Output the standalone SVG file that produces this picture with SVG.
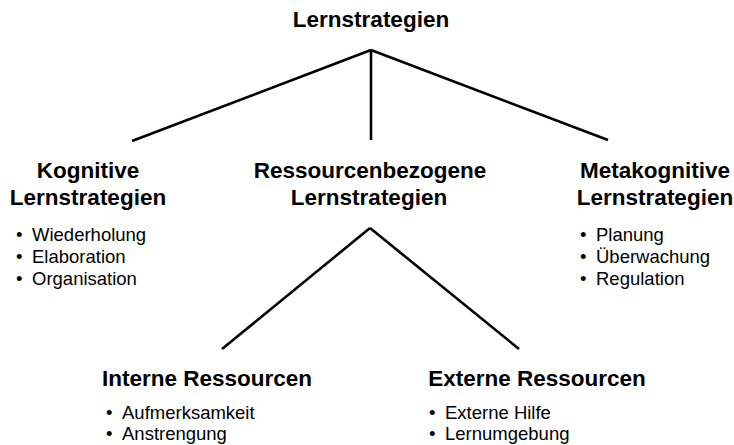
<svg xmlns="http://www.w3.org/2000/svg" width="734" height="445" viewBox="0 0 734 445">
<style>
.h{font-family:"Liberation Sans",Arial,sans-serif;font-weight:bold;font-size:22.5px;fill:#000;text-anchor:middle}
.b{font-family:"Liberation Sans",Arial,sans-serif;font-size:18.5px;fill:#000}
.c{stroke:#000;stroke-width:2.6;fill:none;stroke-linecap:butt}
</style>
<rect width="734" height="445" fill="#fff"/>
<g id="connectors">
<line class="c" x1="371" y1="50" x2="132" y2="141"/>
<line class="c" x1="371" y1="50" x2="371" y2="140"/>
<line class="c" x1="371" y1="50" x2="608" y2="140"/>
<line class="c" x1="370" y1="228" x2="222" y2="349"/>
<line class="c" x1="370" y1="228" x2="519" y2="349"/>
</g>
<g id="root">
<text class="h" x="371" y="27">Lernstrategien</text>
</g>
<g id="kognitiv">
<text class="h" x="88" y="178">Kognitive</text>
<text class="h" x="88" y="205">Lernstrategien</text>
<text class="b" x="16" y="241">•</text><text class="b" x="32" y="241">Wiederholung</text>
<text class="b" x="16" y="263">•</text><text class="b" x="32" y="263">Elaboration</text>
<text class="b" x="16" y="285">•</text><text class="b" x="32" y="285">Organisation</text>
</g>
<g id="ressourcen">
<text class="h" x="370" y="178">Ressourcenbezogene</text>
<text class="h" x="369" y="205">Lernstrategien</text>
</g>
<g id="metakognitiv">
<text class="h" x="655" y="178">Metakognitive</text>
<text class="h" x="655" y="205">Lernstrategien</text>
<text class="b" x="580" y="241">•</text><text class="b" x="596" y="241">Planung</text>
<text class="b" x="580" y="263">•</text><text class="b" x="596" y="263">Überwachung</text>
<text class="b" x="580" y="285">•</text><text class="b" x="596" y="285">Regulation</text>
</g>
<g id="intern">
<text class="h" x="207" y="386">Interne Ressourcen</text>
<text class="b" x="106" y="419">•</text><text class="b" x="122" y="419">Aufmerksamkeit</text>
<text class="b" x="106" y="440">•</text><text class="b" x="122" y="440">Anstrengung</text>
</g>
<g id="extern">
<text class="h" x="537" y="386">Externe Ressourcen</text>
<text class="b" x="429" y="419">•</text><text class="b" x="445" y="419">Externe Hilfe</text>
<text class="b" x="429" y="440">•</text><text class="b" x="445" y="440">Lernumgebung</text>
</g>
</svg>
